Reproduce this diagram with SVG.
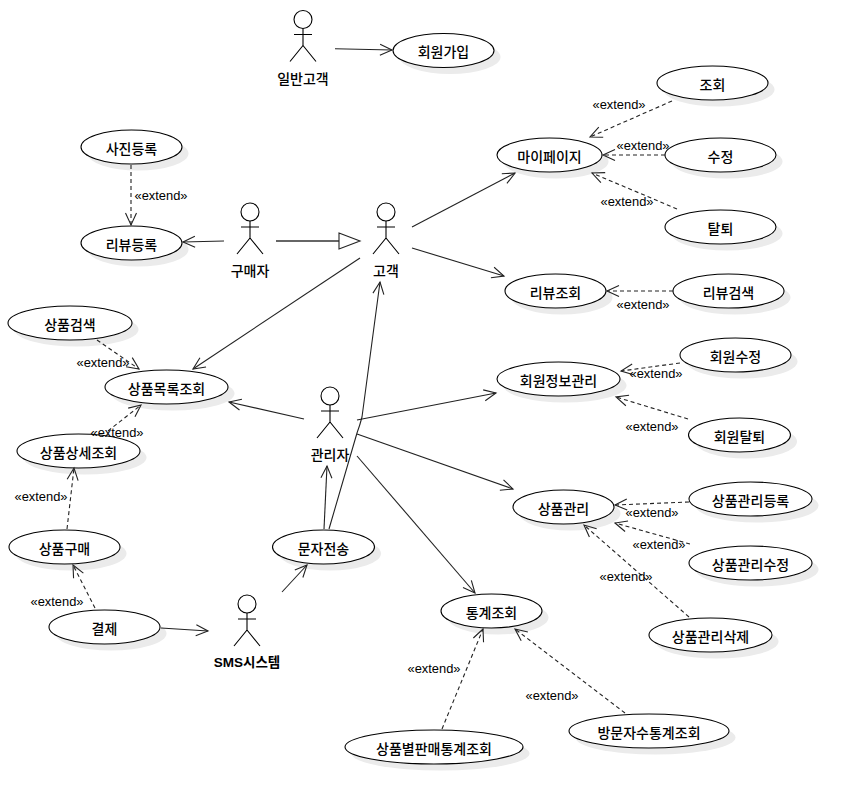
<svg xmlns="http://www.w3.org/2000/svg" width="857" height="803" viewBox="0 0 857 803">
<style>
text{fill:#000;text-anchor:middle;dominant-baseline:central}
.n{font:500 14px "Noto Sans CJK KR","Noto Sans",sans-serif}
.s{font:700 13.5px "Liberation Sans","Noto Sans CJK KR",sans-serif}
.x{font:12.9px "Liberation Sans",Arial,sans-serif}
.sh{fill:#ebebeb;stroke:none}
.uc{fill:#fff;stroke:#000;stroke-width:1.1}
.a{fill:none;stroke:#000;stroke-width:1.1}
.l{fill:none;stroke:#222;stroke-width:1.1;marker-end:url(#open)}
.d{fill:none;stroke:#222;stroke-width:1.1;stroke-dasharray:4 3;marker-end:url(#open)}
.g{fill:none;stroke:#333;stroke-width:1.3}
.t{fill:#fff;stroke:#222;stroke-width:1.1}
</style>
<defs>
<marker id="open" markerUnits="userSpaceOnUse" markerWidth="16" markerHeight="14" refX="13" refY="7" orient="auto" overflow="visible">
<path d="M1 1.5L13 7L1 12.5" fill="none" stroke="#222" stroke-width="1.1" stroke-dasharray="none"/>
</marker>
<g id="actor" class="a">
<circle cx="0" cy="0" r="9"/>
<path d="M-9 15H9M0 9V26M0 26L-13 42M0 26L13 42"/>
</g>
</defs>

<g id="uc-회원가입"><ellipse class="sh" cx="450" cy="57" rx="50.5" ry="17"/><ellipse class="uc" cx="443.5" cy="50.5" rx="50.5" ry="17"/><text class="n" x="443.5" y="51">회원가입</text></g>
<g id="uc-조회"><ellipse class="sh" cx="719" cy="89.5" rx="55.5" ry="17"/><ellipse class="uc" cx="712.5" cy="83" rx="55.5" ry="17"/><text class="n" x="712.5" y="83.5">조회</text></g>
<g id="uc-마이페이지"><ellipse class="sh" cx="556" cy="161.5" rx="52.5" ry="17"/><ellipse class="uc" cx="549.5" cy="155" rx="52.5" ry="17"/><text class="n" x="549.5" y="155.5">마이페이지</text></g>
<g id="uc-수정"><ellipse class="sh" cx="727" cy="161.5" rx="55.5" ry="17"/><ellipse class="uc" cx="720.5" cy="155" rx="55.5" ry="17"/><text class="n" x="720.5" y="155.5">수정</text></g>
<g id="uc-탈퇴"><ellipse class="sh" cx="727" cy="233.5" rx="55.5" ry="17"/><ellipse class="uc" cx="720.5" cy="227" rx="55.5" ry="17"/><text class="n" x="720.5" y="227.5">탈퇴</text></g>
<g id="uc-사진등록"><ellipse class="sh" cx="138" cy="153.5" rx="50.5" ry="17"/><ellipse class="uc" cx="131.5" cy="147" rx="50.5" ry="17"/><text class="n" x="131.5" y="147.5">사진등록</text></g>
<g id="uc-리뷰등록"><ellipse class="sh" cx="138" cy="249.5" rx="50.5" ry="17"/><ellipse class="uc" cx="131.5" cy="243" rx="50.5" ry="17"/><text class="n" x="131.5" y="243.5">리뷰등록</text></g>
<g id="uc-리뷰조회"><ellipse class="sh" cx="562" cy="297.5" rx="50.5" ry="17"/><ellipse class="uc" cx="555.5" cy="291" rx="50.5" ry="17"/><text class="n" x="555.5" y="291.5">리뷰조회</text></g>
<g id="uc-리뷰검색"><ellipse class="sh" cx="735" cy="297.5" rx="55.5" ry="17"/><ellipse class="uc" cx="728.5" cy="291" rx="55.5" ry="17"/><text class="n" x="728.5" y="291.5">리뷰검색</text></g>
<g id="uc-상품검색"><ellipse class="sh" cx="76.5" cy="329.5" rx="62" ry="17"/><ellipse class="uc" cx="70" cy="323" rx="62" ry="17"/><text class="n" x="70" y="323.5">상품검색</text></g>
<g id="uc-상품목록조회"><ellipse class="sh" cx="173" cy="393.5" rx="61.5" ry="17"/><ellipse class="uc" cx="166.5" cy="387" rx="61.5" ry="17"/><text class="n" x="166.5" y="387.5">상품목록조회</text></g>
<g id="uc-상품상세조회"><ellipse class="sh" cx="85" cy="457.5" rx="61.5" ry="17"/><ellipse class="uc" cx="78.5" cy="451" rx="61.5" ry="17"/><text class="n" x="78.5" y="451.5">상품상세조회</text></g>
<g id="uc-상품구매"><ellipse class="sh" cx="71" cy="553.5" rx="55.5" ry="17"/><ellipse class="uc" cx="64.5" cy="547" rx="55.5" ry="17"/><text class="n" x="64.5" y="547.5">상품구매</text></g>
<g id="uc-결제"><ellipse class="sh" cx="111" cy="633.5" rx="55.5" ry="17"/><ellipse class="uc" cx="104.5" cy="627" rx="55.5" ry="17"/><text class="n" x="104.5" y="627.5">결제</text></g>
<g id="uc-문자전송"><ellipse class="sh" cx="330" cy="553.5" rx="51" ry="17"/><ellipse class="uc" cx="323.5" cy="547" rx="51" ry="17"/><text class="n" x="323.5" y="547.5">문자전송</text></g>
<g id="uc-회원정보관리"><ellipse class="sh" cx="565" cy="385.5" rx="61.5" ry="17"/><ellipse class="uc" cx="558.5" cy="379" rx="61.5" ry="17"/><text class="n" x="558.5" y="379.5">회원정보관리</text></g>
<g id="uc-회원수정"><ellipse class="sh" cx="742" cy="361.5" rx="55.5" ry="17"/><ellipse class="uc" cx="735.5" cy="355" rx="55.5" ry="17"/><text class="n" x="735.5" y="355.5">회원수정</text></g>
<g id="uc-회원탈퇴"><ellipse class="sh" cx="746" cy="441.5" rx="51" ry="17"/><ellipse class="uc" cx="739.5" cy="435" rx="51" ry="17"/><text class="n" x="739.5" y="435.5">회원탈퇴</text></g>
<g id="uc-상품관리"><ellipse class="sh" cx="570" cy="513.5" rx="50.5" ry="17"/><ellipse class="uc" cx="563.5" cy="507" rx="50.5" ry="17"/><text class="n" x="563.5" y="507.5">상품관리</text></g>
<g id="uc-상품관리등록"><ellipse class="sh" cx="757" cy="505.5" rx="61.5" ry="17"/><ellipse class="uc" cx="750.5" cy="499" rx="61.5" ry="17"/><text class="n" x="750.5" y="499.5">상품관리등록</text></g>
<g id="uc-상품관리수정"><ellipse class="sh" cx="757" cy="569.5" rx="61.5" ry="17"/><ellipse class="uc" cx="750.5" cy="563" rx="61.5" ry="17"/><text class="n" x="750.5" y="563.5">상품관리수정</text></g>
<g id="uc-상품관리삭제"><ellipse class="sh" cx="717" cy="641.5" rx="61.5" ry="17"/><ellipse class="uc" cx="710.5" cy="635" rx="61.5" ry="17"/><text class="n" x="710.5" y="635.5">상품관리삭제</text></g>
<g id="uc-통계조회"><ellipse class="sh" cx="498" cy="617.5" rx="50.5" ry="17"/><ellipse class="uc" cx="491.5" cy="611" rx="50.5" ry="17"/><text class="n" x="491.5" y="611.5">통계조회</text></g>
<g id="uc-상품별판매통계조회"><ellipse class="sh" cx="440.5" cy="753.5" rx="89" ry="17"/><ellipse class="uc" cx="434" cy="747" rx="89" ry="17"/><text class="n" x="434" y="747.5">상품별판매통계조회</text></g>
<g id="uc-방문자수통계조회"><ellipse class="sh" cx="655.5" cy="737.5" rx="80" ry="17"/><ellipse class="uc" cx="649" cy="731" rx="80" ry="17"/><text class="n" x="649" y="731.5">방문자수통계조회</text></g>

<g id="actor-일반고객"><use href="#actor" x="303" y="19.5"/><text class="n" x="303" y="78">일반고객</text></g>
<g id="actor-구매자"><use href="#actor" x="250" y="212"/><text class="n" x="250" y="270">구매자</text></g>
<g id="actor-고객"><use href="#actor" x="386" y="212"/><text class="n" x="386" y="270">고객</text></g>
<g id="actor-관리자"><use href="#actor" x="330" y="396"/><text class="n" x="330" y="454">관리자</text></g>
<g id="actor-SMS시스템"><use href="#actor" x="247" y="604"/><text class="s" x="247" y="662">SMS시스템</text></g>

<g id="connectors">
<path class="l" d="M335 48.7L392 50"/>
<path class="d" d="M672 101L590 137"/>
<path class="d" d="M665 155L603 155"/>
<path class="d" d="M677 209L592 173"/>
<path class="d" d="M131 165L131 225"/>
<path class="l" d="M224 241L183 242"/>
<path class="g" d="M276 241H339"/>
<path class="t" d="M339 233L360 241L339 249Z"/>
<path class="l" d="M360 258L193 369"/>
<path class="l" d="M412 227L515 173"/>
<path class="l" d="M412 248L504 276"/>
<path class="l" d="M304 419L229 402"/>
<path class="l" d="M357 420L496 393"/>
<path class="l" d="M357 434L513 489"/>
<path class="l" d="M357 456L475 593"/>
<path class="l" d="M324 529L327 466"/>
<path class="l" d="M329 529L357 433Q360 425 362 417L380 282"/>
<path class="l" d="M282 592L307 565"/>
<path class="l" d="M161 628L208 631"/>
<path class="d" d="M95 608L73 565"/>
<path class="d" d="M67 529L74 468"/>
<path class="d" d="M108 431L141 405"/>
<path class="d" d="M97 340L139 369"/>
<path class="d" d="M673 291L607 291"/>
<path class="d" d="M680 363L621 371"/>
<path class="d" d="M688 419L616 397"/>
<path class="d" d="M689 502L615 505"/>
<path class="d" d="M690 544L615 523"/>
<path class="d" d="M689 617L584 525"/>
<path class="d" d="M625 713L515 629"/>
<path class="d" d="M442 729L483 629"/>
</g>

<g id="connector-labels">
<text class="x" x="619" y="104">«extend»</text>
<text class="x" x="643" y="145">«extend»</text>
<text class="x" x="627" y="201">«extend»</text>
<text class="x" x="161" y="195">«extend»</text>
<text class="x" x="103" y="362">«extend»</text>
<text class="x" x="117" y="432">«extend»</text>
<text class="x" x="41" y="496">«extend»</text>
<text class="x" x="57" y="601">«extend»</text>
<text class="x" x="643" y="304">«extend»</text>
<text class="x" x="656" y="373">«extend»</text>
<text class="x" x="652" y="426">«extend»</text>
<text class="x" x="652" y="512">«extend»</text>
<text class="x" x="659" y="544">«extend»</text>
<text class="x" x="626" y="576">«extend»</text>
<text class="x" x="434" y="668">«extend»</text>
<text class="x" x="552" y="695">«extend»</text>
</g>
</svg>
